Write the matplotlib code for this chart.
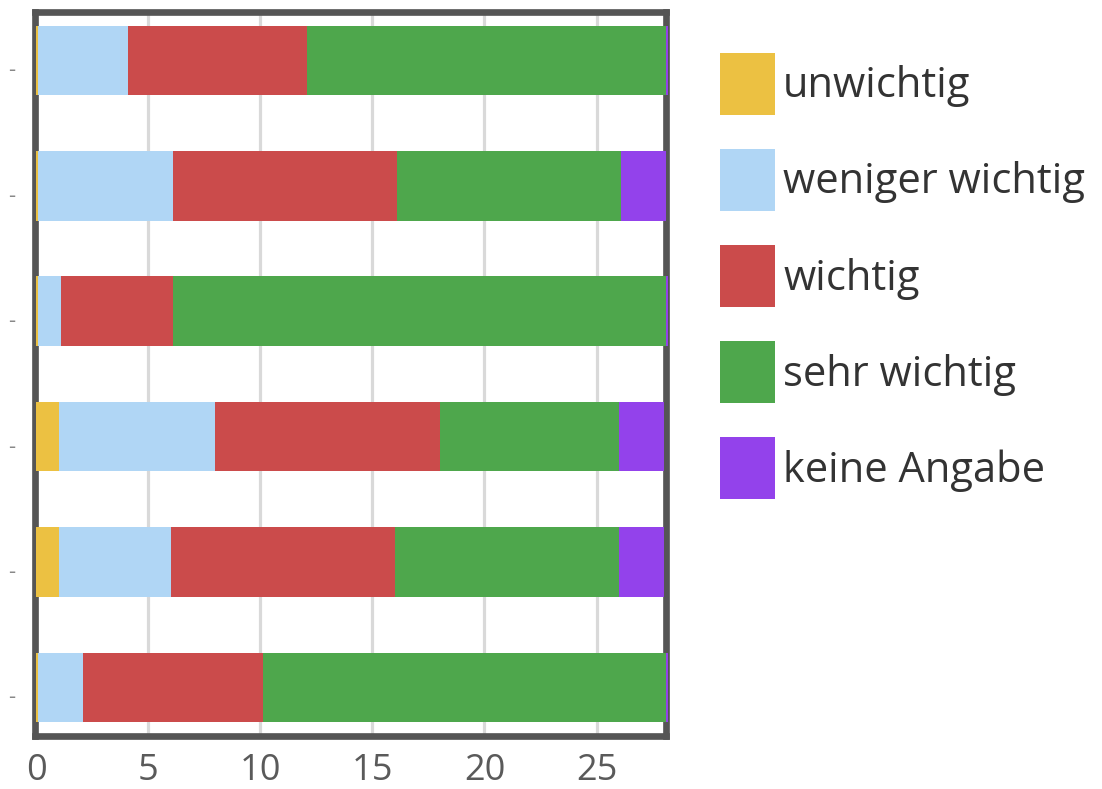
import numpy as np
import matplotlib
matplotlib.use("Agg")
import matplotlib.pyplot as plt
from matplotlib.transforms import ScaledTranslation

# Answer categories (legend order) and their colours
categories = ["unwichtig", "weniger wichtig", "wichtig", "sehr wichtig", "keine Angabe"]
colors = ["#ECC142", "#B0D6F5", "#CB4B4B", "#4EA74C", "#9342EB"]

# Counts per bar, top to bottom
unwichtig = [0, 0, 0, 1, 1, 0]
weniger_wichtig = [4, 6, 1, 7, 5, 2]
wichtig = [8, 10, 5, 10, 10, 8]
sehr_wichtig = [16, 10, 22, 8, 10, 18]
keine_angabe = [0, 2, 0, 2, 2, 0]

# bar labels are cut off in the source, only a dash remains
bar_labels = ["-"] * 6
x_ticks = [0, 5, 10, 15, 20, 25]

series = [unwichtig, weniger_wichtig, wichtig, sehr_wichtig, keine_angabe]

plt.rcParams['font.family'] = ['Open Sans', 'DejaVu Sans']

fig = plt.figure(figsize=(11.02, 7.89), dpi=100)
ax = fig.add_axes([0.0318, 0.0668, 0.5726, 0.9186])

y = np.arange(len(bar_labels))
left = np.zeros(len(bar_labels))
for name, vals, col in zip(categories, series, colors):
    vals = np.array(vals, dtype=float)
    # zero values are shown as a thin sliver in the original
    widths = np.where(vals == 0, 0.1, vals)
    ax.barh(y, widths, left=left, height=0.555, color=col, label=name,
            zorder=3, clip_on=False)
    left = left + widths

ax.set_xlim(-0.05, 28.1)
ax.set_ylim(5.39, -0.39)

ax.set_xticks(x_ticks)
ax.set_xticklabels([str(t) for t in x_ticks])
ax.tick_params(axis='x', length=0, pad=12, labelsize=26, labelcolor='#5a5a5a')
ax.set_yticks(y)
ax.set_yticklabels(bar_labels)
ax.tick_params(axis='y', length=0, pad=14, labelsize=16, labelcolor='#888888')
for lab in ax.get_yticklabels():
    lab.set_transform(lab.get_transform() + ScaledTranslation(0, -0.08, fig.dpi_scale_trans))

ax.grid(axis='x', color='#d9d9d9', linewidth=2.3, zorder=0)
ax.set_axisbelow(True)
for sp in ax.spines.values():
    sp.set_color('#555555')
    sp.set_linewidth(4.8)
    sp.set_zorder(2)

leg = ax.legend(loc='upper left', bbox_to_anchor=(0.6532, 0.9328), bbox_transform=fig.transFigure,
                frameon=False, fontsize=30, handlelength=1.32, handleheight=1.91,
                labelspacing=0.82, handletextpad=0.2, borderaxespad=0, borderpad=0)
for t in leg.get_texts():
    t.set_color('#333333')

fig.savefig("out.png", dpi=100)
